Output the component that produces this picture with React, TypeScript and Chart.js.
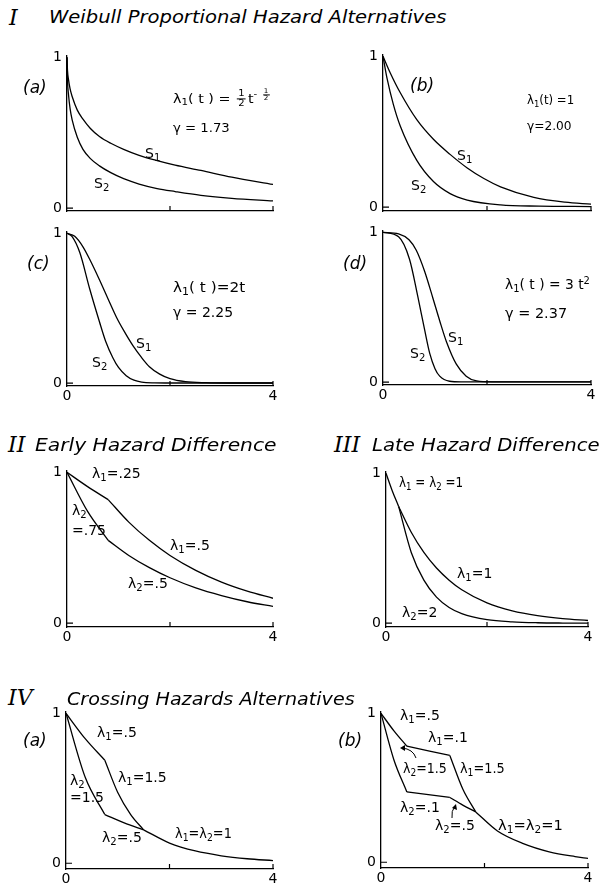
import React, { useEffect, useLayoutEffect, useRef } from "react";
import { Chart, registerables } from "chart.js";
Chart.register(...registerables);

// ---------------- data ----------------
// I (a)  lambda1(t) = 1/2 t^-1/2, gamma = 1.73
const tIa = [0, 0.01, 0.03, 0.06, 0.1, 0.2, 0.31, 0.45, 0.63, 0.85, 1.1, 1.4, 1.75, 2.1, 2.6, 3.2, 4];
const s1Ia = [1, 0.91, 0.85, 0.79, 0.74, 0.65, 0.59, 0.53, 0.475, 0.43, 0.39, 0.35, 0.315, 0.285, 0.25, 0.205, 0.157];
const s2Ia = [1, 0.845, 0.75, 0.66, 0.585, 0.47, 0.39, 0.33, 0.28, 0.235, 0.195, 0.16, 0.13, 0.11, 0.085, 0.065, 0.048];
// I (b)  lambda1(t) = 1, gamma = 2.00
const tIb1 = [0, 0.14, 0.33, 0.65, 0.97, 1.29, 1.62, 1.94, 2.26, 2.9, 3.5, 4];
const s1Ib = [1, 0.89, 0.76, 0.58, 0.45, 0.35, 0.26, 0.19, 0.135, 0.065, 0.033, 0.02];
const tIb2 = [0, 0.08, 0.2, 0.33, 0.65, 0.97, 1.29, 1.62, 2.26, 3, 4];
const s2Ib = [1, 0.85, 0.68, 0.54, 0.31, 0.17, 0.09, 0.047, 0.015, 0.007, 0.004];
// I (c)  lambda1(t) = 2t, gamma = 2.25
const tIc1 = [0, 0.15, 0.31, 0.45, 0.63, 0.8, 0.96, 1.12, 1.28, 1.45, 1.6, 1.8, 2.0, 2.3, 2.7, 3.2, 4];
const s1Ic = [1, 0.98, 0.91, 0.82, 0.69, 0.56, 0.44, 0.34, 0.25, 0.17, 0.11, 0.06, 0.03, 0.01, 0.003, 0.001, 0.001];
const tIc2 = [0, 0.1, 0.25, 0.44, 0.63, 0.75, 0.89, 1.0, 1.15, 1.3, 1.45, 1.7, 2, 3, 4];
const s2Ic = [1, 0.978, 0.87, 0.63, 0.41, 0.28, 0.17, 0.105, 0.05, 0.02, 0.007, 0.002, 0.001, 0.001, 0.001];
// I (d)  lambda1(t) = 3t^2, gamma = 2.37
const tId1 = [0, 0.3, 0.5, 0.64, 0.8, 0.96, 1.09, 1.22, 1.41, 1.6, 1.8, 2.1, 3, 4];
const s1Id = [1, 0.99, 0.95, 0.88, 0.74, 0.56, 0.41, 0.27, 0.12, 0.04, 0.008, 0.002, 0.002, 0.002];
const tId2 = [0, 0.3, 0.51, 0.67, 0.8, 0.9, 1.0, 1.09, 1.28, 1.5, 2, 3, 4];
const s2Id = [1, 0.97, 0.82, 0.57, 0.35, 0.19, 0.09, 0.04, 0.006, 0.002, 0.002, 0.002, 0.002];
// II  early hazard difference
const tII_a = [0, 0.4, 0.8];
const s1II_a = [1, 0.905, 0.819];
const s2II_a = [1, 0.741, 0.549];
const tII_b = [0.8, 1.2, 1.6, 2, 2.5, 3, 3.5, 4];
const s1II_b = [0.819, 0.67, 0.549, 0.449, 0.35, 0.272, 0.212, 0.165];
const s2II_b = [0.549, 0.449, 0.368, 0.301, 0.234, 0.183, 0.142, 0.111];
// III late hazard difference
const tIII_a = [0, 0.125, 0.25];
const sIII_a = [1, 0.882, 0.779];
const tIII_b = [0.25, 0.5, 0.75, 1, 1.25, 1.5, 2, 2.5, 3, 3.5, 4];
const s1III_b = [0.779, 0.607, 0.472, 0.368, 0.287, 0.223, 0.135, 0.082, 0.05, 0.03, 0.018];
const s2III_b = [0.779, 0.472, 0.287, 0.174, 0.105, 0.064, 0.024, 0.009, 0.003, 0.001, 0.0004];
// IV (a) crossing hazards
const tIVa_1 = [0, 0.375, 0.75];
const s1IVa_1 = [1, 0.829, 0.687];
const s2IVa_1 = [1, 0.57, 0.325];
const tIVa_2a = [0.75, 1, 1.25, 1.5];
const s1IVa_2 = [0.687, 0.472, 0.325, 0.223];
const tIVa_2b = [0.75, 1.125, 1.5];
const s2IVa_2 = [0.325, 0.269, 0.223];
const tIVa_3 = [1.5, 2, 2.5, 3, 3.5, 4];
const sIVa_3 = [0.223, 0.135, 0.082, 0.05, 0.03, 0.018];
// IV (b) crossing hazards
const tIVb_1 = [0, 0.25, 0.5];
const s1IVb_1 = [1, 0.882, 0.779];
const s2IVb_1 = [1, 0.687, 0.472];
const tIVb_2 = [0.5, 1.33];
const s1IVb_2 = [0.779, 0.717];
const s2IVb_2 = [0.472, 0.435];
const tIVb_3 = [1.33, 1.58, 1.83];
const s1IVb_3 = [0.717, 0.492, 0.338];
const s2IVb_3 = [0.435, 0.384, 0.338];
const tIVb_4 = [1.83, 2.25, 2.75, 3.25, 3.75, 4];
const sIVb_4 = [0.338, 0.21, 0.125, 0.07, 0.038, 0.026];

// ---------------- layout ----------------
type Seg = [number[], number[]];
interface PanelDef { L: number; R: number; T: number; B0: number; AX: number; showX: boolean; segs: Seg[] }

const panels: PanelDef[] = [
  { L: 67, R: 273, T: 50, B0: 208, AX: 211, showX: false, segs: [[tIa, s1Ia], [tIa, s2Ia]] },
  { L: 383, R: 591, T: 49, B0: 207, AX: 211, showX: false, segs: [[tIb1, s1Ib], [tIb2, s2Ib]] },
  { L: 67, R: 273, T: 226, B0: 383, AX: 386, showX: true, segs: [[tIc1, s1Ic], [tIc2, s2Ic]] },
  { L: 383, R: 591, T: 225, B0: 382, AX: 385, showX: true, segs: [[tId1, s1Id], [tId2, s2Id]] },
  { L: 67, R: 273, T: 465, B0: 623, AX: 627, showX: true, segs: [[tII_a, s1II_a], [tII_a, s2II_a], [tII_b, s1II_b], [tII_b, s2II_b]] },
  { L: 386, R: 588, T: 466, B0: 623, AX: 627, showX: true, segs: [[tIII_a, sIII_a], [tIII_b, s1III_b], [tIII_b, s2III_b]] },
  { L: 66, R: 273, T: 706, B0: 863, AX: 869, showX: true, segs: [[tIVa_1, s1IVa_1], [tIVa_1, s2IVa_1], [tIVa_2a, s1IVa_2], [tIVa_2b, s2IVa_2], [tIVa_3, sIVa_3]] },
  { L: 381, R: 588, T: 706, B0: 862, AX: 868, showX: true, segs: [[tIVb_1, s1IVb_1], [tIVb_1, s2IVb_1], [tIVb_2, s1IVb_2], [tIVb_2, s2IVb_2], [tIVb_3, s1IVb_3], [tIVb_3, s2IVb_3], [tIVb_4, sIVb_4]] },
];

const LEFT_SPACE = 24, RIGHT_SPACE = 8, TOP_SPACE = 6, BOTTOM_SPACE = 20;
const FONT = "'DejaVu Sans', 'Liberation Sans', sans-serif";

const inwardTicks = {
  id: "inwardTicks",
  afterDraw(chart: any) {
    const { ctx, scales, chartArea } = chart;
    const x = scales.x, y = scales.y;
    ctx.save();
    ctx.strokeStyle = "#000";
    ctx.lineWidth = 1.2;
    ctx.beginPath();
    for (const v of [2, 4]) {
      const px = x.getPixelForValue(v);
      ctx.moveTo(px, chartArea.bottom);
      ctx.lineTo(px, chartArea.bottom - 5);
    }
    const py = y.getPixelForValue(0);
    ctx.moveTo(chartArea.left, py);
    ctx.lineTo(chartArea.left + 6, py);
    ctx.stroke();
    ctx.restore();
  },
};

function Panel({ def }: { def: PanelDef }) {
  const ref = useRef<HTMLCanvasElement | null>(null);
  useEffect(() => {
    const h = def.B0 - def.T;
    const ymin = -(def.AX - def.B0) / h;
    const ymax = 1 + 2 / h;
    const tickFont = { family: FONT, size: 14, weight: "normal" as any };
    const chart = new Chart(ref.current as HTMLCanvasElement, {
      type: "line",
      data: {
        datasets: def.segs.map(([t, s]) => ({
          data: t.map((x, i) => ({ x, y: s[i] })),
          borderColor: "#000",
          borderWidth: 1.3,
          pointRadius: 0,
          cubicInterpolationMode: "monotone" as const,
          fill: false,
        })),
      },
      options: {
        animation: false,
        responsive: false,
        devicePixelRatio: 1,
        events: [],
        layout: { padding: { top: TOP_SPACE, right: RIGHT_SPACE, left: 0, bottom: 0 } },
        plugins: { legend: { display: false }, tooltip: { enabled: false } },
        scales: {
          x: {
            type: "linear",
            min: 0,
            max: 4,
            afterFit: (s: any) => { s.height = BOTTOM_SPACE; },
            afterBuildTicks: (s: any) => { s.ticks = [{ value: 0 }, { value: 2 }, { value: 4 }]; },
            grid: { display: true, drawOnChartArea: false, drawTicks: false },
            border: { display: true, color: "#000", width: 1.3 },
            ticks: {
              padding: 2,
              color: "#000",
              font: tickFont,
              maxRotation: 0,
              autoSkip: false,
              callback: (v: any) => (def.showX && (v === 0 || v === 4) ? String(v) : ""),
            },
          },
          y: {
            type: "linear",
            min: ymin,
            max: ymax,
            afterFit: (s: any) => { s.width = LEFT_SPACE; },
            afterBuildTicks: (s: any) => { s.ticks = [{ value: 0 }, { value: 1 }]; },
            grid: { display: true, drawOnChartArea: false, drawTicks: false },
            border: { display: true, color: "#000", width: 1.3 },
            ticks: {
              padding: 5,
              color: "#000",
              font: tickFont,
              autoSkip: false,
              callback: (v: any) => (v === 0 ? "0" : v === 1 ? "1" : ""),
            },
          },
        },
      },
      plugins: [inwardTicks],
    } as any);
    return () => chart.destroy();
  }, []);
  const w = def.R - def.L + LEFT_SPACE + RIGHT_SPACE;
  const hh = def.AX - (def.T - 2) + TOP_SPACE + BOTTOM_SPACE;
  return (
    <canvas
      ref={ref}
      width={w}
      height={hh}
      style={{ position: "absolute", left: def.L - LEFT_SPACE, top: def.T - 2 - TOP_SPACE, width: w, height: hh }}
    />
  );
}

// ---------------- text helpers ----------------
// Txt: text at left x, vertically centred on y; if w is given the text is stretched/squeezed to that width.
const Txt = ({ x, y, w, size = 14, italic = false, serif = false, weight, children }: any) => {
  const ref = useRef<HTMLDivElement | null>(null);
  useLayoutEffect(() => {
    const el = ref.current;
    if (!el || !w) return;
    const natural = el.offsetWidth;
    if (natural > 0) el.style.transform = `translateY(-50%) scaleX(${w / natural})`;
  }, [w]);
  return (
    <div
      ref={ref}
      style={{
        position: "absolute",
        left: x,
        top: y,
        transform: "translateY(-50%)",
        transformOrigin: "left center",
        whiteSpace: "nowrap",
        lineHeight: 1,
        fontFamily: serif ? "'DejaVu Serif', 'Liberation Serif', serif" : FONT,
        fontWeight: weight ?? 400,
        fontStyle: italic ? "italic" : "normal",
        fontSize: size,
        color: "#000",
      }}
    >
      {children}
    </div>
  );
};
const Sub = ({ children }: any) => (
  <span style={{ fontSize: "0.72em", position: "relative", top: "0.3em" }}>{children}</span>
);
const Sup = ({ children }: any) => (
  <span style={{ fontSize: "0.72em", position: "relative", top: "-0.5em" }}>{children}</span>
);
const Frac = ({ n, d }: any) => (
  <span
    style={{
      display: "inline-flex",
      flexDirection: "column",
      alignItems: "center",
      fontSize: "0.7em",
      lineHeight: 1,
      verticalAlign: "middle",
      margin: "0 2px",
    }}
  >
    <span style={{ borderBottom: "1px solid #000", padding: "0 1px" }}>{n}</span>
    <span>{d}</span>
  </span>
);
const L1 = () => (<>λ<Sub>1</Sub></>);
const L2 = () => (<>λ<Sub>2</Sub></>);

export default function App() {
  return (
    <div style={{ position: "absolute", left: 0, top: 0, width: 602, height: 888, background: "#fff", overflow: "hidden" }}>
      {panels.map((p, i) => (
        <Panel key={i} def={p} />
      ))}

      {/* Titles */}
      <Txt x={9} y={18} size={22} italic serif>I</Txt>
      <Txt x={49} y={17} w={398} size={17} italic weight={300}>Weibull Proportional Hazard Alternatives</Txt>
      <Txt x={8} y={445} size={22} italic serif>II</Txt>
      <Txt x={35} y={445} w={242} size={17} italic weight={300}>Early Hazard Difference</Txt>
      <Txt x={334} y={445} size={22} italic serif>III</Txt>
      <Txt x={372} y={445} w={228} size={17} italic weight={300}>Late Hazard Difference</Txt>
      <Txt x={8} y={698} size={22} italic serif>IV</Txt>
      <Txt x={67} y={699} w={288} size={17} italic weight={300}>Crossing Hazards Alternatives</Txt>

      {/* I (a) */}
      <Txt x={23} y={87} size={17} italic weight={300}>(a)</Txt>
      <Txt x={173} y={99} w={99} size={13}><L1 />( t ) = <Frac n="1" d="2" />t<Sup>- <Frac n="1" d="2" /></Sup></Txt>
      <Txt x={173} y={127} w={57} size={13}>γ = 1.73</Txt>
      <Txt x={145} y={153} size={14}>S<Sub>1</Sub></Txt>
      <Txt x={94} y={183} size={14}>S<Sub>2</Sub></Txt>

      {/* I (b) */}
      <Txt x={410} y={85} size={17} italic weight={300}>(b)</Txt>
      <Txt x={527} y={99} w={47} size={13}><L1 />(t) =1</Txt>
      <Txt x={527} y={125} w={45} size={13}>γ=2.00</Txt>
      <Txt x={457} y={155} size={14}>S<Sub>1</Sub></Txt>
      <Txt x={411} y={185} size={14}>S<Sub>2</Sub></Txt>

      {/* I (c) */}
      <Txt x={27} y={263} size={17} italic weight={300}>(c)</Txt>
      <Txt x={173} y={287} w={72} size={14}><L1 />( t )=2t</Txt>
      <Txt x={173} y={312} w={60} size={14}>γ = 2.25</Txt>
      <Txt x={136} y={343} size={14}>S<Sub>1</Sub></Txt>
      <Txt x={92} y={362} size={14}>S<Sub>2</Sub></Txt>

      {/* I (d) */}
      <Txt x={343} y={263} size={17} italic weight={300}>(d)</Txt>
      <Txt x={505} y={284} w={85} size={14}><L1 />( t ) = 3 t<Sup>2</Sup></Txt>
      <Txt x={505} y={313} w={62} size={14}>γ = 2.37</Txt>
      <Txt x={448} y={337} size={14}>S<Sub>1</Sub></Txt>
      <Txt x={410} y={353} size={14}>S<Sub>2</Sub></Txt>

      {/* II */}
      <Txt x={92} y={473} size={14}><L1 />=.25</Txt>
      <Txt x={72} y={510} size={14}><L2 /></Txt>
      <Txt x={72} y={530} size={14}>=.75</Txt>
      <Txt x={170} y={545} size={14}><L1 />=.5</Txt>
      <Txt x={128} y={583} size={14}><L2 />=.5</Txt>

      {/* III */}
      <Txt x={399} y={482} w={64} size={14}><L1 /> = <L2 /> =1</Txt>
      <Txt x={457} y={573} size={14}><L1 />=1</Txt>
      <Txt x={402} y={612} size={14}><L2 />=2</Txt>

      {/* IV (a) */}
      <Txt x={23} y={740} size={17} italic weight={300}>(a)</Txt>
      <Txt x={97} y={732} size={14}><L1 />=.5</Txt>
      <Txt x={118} y={777} size={14}><L1 />=1.5</Txt>
      <Txt x={70} y={780} size={14}><L2 /></Txt>
      <Txt x={70} y={797} size={14}>=1.5</Txt>
      <Txt x={102} y={837} size={14}><L2 />=.5</Txt>
      <Txt x={175} y={833} w={57} size={14}><L1 />=<L2 />=1</Txt>

      {/* IV (b) */}
      <Txt x={338} y={740} size={17} italic weight={300}>(b)</Txt>
      <Txt x={400} y={715} size={14}><L1 />=.5</Txt>
      <Txt x={428} y={737} size={14}><L1 />=.1</Txt>
      <Txt x={403} y={768} w={44} size={14}><L2 />=1.5</Txt>
      <Txt x={460} y={768} w={45} size={14}><L1 />=1.5</Txt>
      <Txt x={400} y={807} size={14}><L2 />=.1</Txt>
      <Txt x={435} y={825} size={14}><L2 />=.5</Txt>
      <Txt x={498} y={825} w={65} size={14}><L1 />=<L2 />=1</Txt>

      <svg width={602} height={888} style={{ position: "absolute", left: 0, top: 0, pointerEvents: "none" }}>
        <path d="M416 758 Q413 749 402 748" fill="none" stroke="#000" strokeWidth={1} />
        <path d="M400 748 L405 745 L405 751 Z" fill="#000" />
        <path d="M452 818 Q451 811 455 806" fill="none" stroke="#000" strokeWidth={1} />
        <path d="M456 804 L457 810 L452 808 Z" fill="#000" />
      </svg>
    </div>
  );
}
